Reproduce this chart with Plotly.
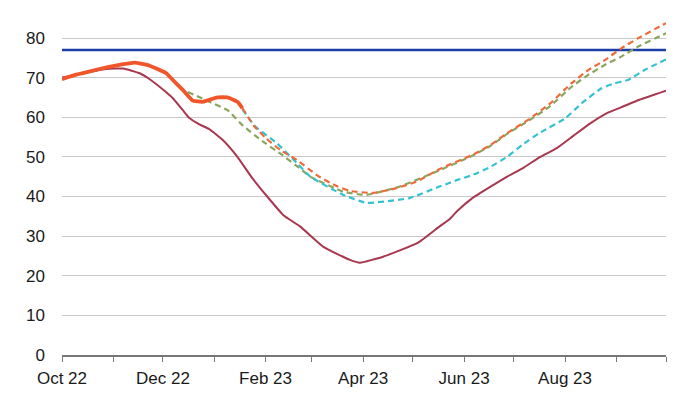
import plotly.graph_objects as go

# ---------------- data ----------------
target_dates = ["2022-10-01", "2023-10-01"]
target_values = [77, 77]

red_dates = ["2022-10-01", "2022-10-18", "2022-10-28", "2022-11-07", "2022-11-17", "2022-11-23",
             "2022-12-03", "2022-12-07", "2022-12-13", "2022-12-17", "2022-12-23", "2022-12-29",
             "2023-01-06", "2023-01-15", "2023-01-23", "2023-02-02", "2023-02-12", "2023-02-22",
             "2023-03-08", "2023-03-24", "2023-03-30", "2023-04-13", "2023-05-04", "2023-05-17",
             "2023-05-23", "2023-05-28", "2023-06-06", "2023-06-17", "2023-06-27", "2023-07-07",
             "2023-07-17", "2023-07-27", "2023-08-06", "2023-08-16", "2023-08-26", "2023-09-05",
             "2023-09-15", "2023-10-01"]
red_values = [70.0, 71.5, 72.2, 72.3, 71.1, 69.6,
              66.3, 64.8, 61.8, 59.8, 58.2, 57.0,
              54.3, 50.0, 45.2, 40.0, 35.2, 32.4,
              27.3, 24.0, 23.3, 24.8, 28.3, 32.4,
              34.2, 36.4, 39.6, 42.5, 45.0, 47.3,
              50.0, 52.2, 55.3, 58.4, 61.0, 62.7,
              64.4, 66.7]

actual_dates = ["2022-10-01", "2022-10-10", "2022-10-18", "2022-10-28", "2022-11-07", "2022-11-14",
                "2022-11-23", "2022-12-03", "2022-12-07", "2022-12-13", "2022-12-19", "2022-12-25",
                "2023-01-03", "2023-01-09", "2023-01-15", "2023-01-18"]
actual_values = [69.6, 70.8, 71.6, 72.6, 73.4, 73.8,
                 73.0, 71.1, 69.4, 66.9, 64.2, 63.9,
                 65.0, 65.0, 63.9, 62.3]

orange_dates = ["2023-01-18", "2023-01-25", "2023-02-01", "2023-02-10", "2023-02-20", "2023-03-04",
                "2023-03-14", "2023-03-24", "2023-04-07", "2023-04-20", "2023-05-03", "2023-05-17",
                "2023-06-06", "2023-06-17", "2023-06-27", "2023-07-11", "2023-07-23", "2023-08-05",
                "2023-08-15", "2023-08-25", "2023-09-04", "2023-09-14", "2023-09-29", "2023-10-01"]
orange_values = [62.3, 57.8, 54.8, 51.7, 49.2, 45.4,
                 43.0, 41.4, 40.9, 42.0, 43.7, 46.9,
                 50.5, 53.0, 56.0, 59.7, 63.5, 68.6,
                 71.9, 74.4, 77.4, 79.9, 83.3, 83.7]

green_dates = ["2022-12-16", "2022-12-29", "2023-01-09", "2023-01-18", "2023-01-29", "2023-02-10",
               "2023-02-22", "2023-02-28", "2023-03-20", "2023-04-03", "2023-04-23", "2023-05-17",
               "2023-06-06", "2023-06-17", "2023-06-27", "2023-07-11", "2023-07-23", "2023-08-05",
               "2023-08-15", "2023-08-25", "2023-09-04", "2023-09-14", "2023-09-29", "2023-10-01"]
green_values = [66.4, 63.9, 61.8, 58.0, 54.3, 50.8,
                47.0, 45.0, 41.2, 40.4, 42.5, 46.6,
                50.3, 52.8, 55.8, 59.4, 62.8, 67.7,
                70.7, 73.2, 75.3, 77.8, 80.8, 81.2]

cyan_dates = ["2023-01-18", "2023-01-26", "2023-02-08", "2023-02-20", "2023-02-28", "2023-03-20",
              "2023-04-03", "2023-04-29", "2023-05-17", "2023-05-23", "2023-05-28", "2023-06-06",
              "2023-06-17", "2023-06-27", "2023-07-06", "2023-07-16", "2023-08-01", "2023-08-11",
              "2023-08-23", "2023-08-31", "2023-09-08", "2023-09-18", "2023-10-01"]
cyan_values = [62.0, 57.6, 53.4, 48.4, 45.0, 40.4,
               38.4, 39.6, 42.5, 43.4, 44.2, 45.4,
               47.5, 50.0, 53.0, 55.9, 59.7, 63.5,
               67.3, 68.6, 69.4, 71.9, 74.6]

tick_dates = ["2022-10-01", "2022-11-01", "2022-12-01", "2023-01-01", "2023-02-01", "2023-03-01",
              "2023-04-01", "2023-05-01", "2023-06-01", "2023-07-01", "2023-08-01", "2023-09-01",
              "2023-10-01"]
tick_labels = ["Oct 22", "", "Dec 22", "", "Feb 23", "", "Apr 23", "", "Jun 23", "", "Aug 23", "", ""]
y_ticks = [0, 10, 20, 30, 40, 50, 60, 70, 80]

# ---------------- figure ----------------
FONT = "Liberation Sans, Arial, sans-serif"
fig = go.Figure()

fig.add_trace(go.Scatter(x=target_dates, y=target_values, mode="lines",
                         line=dict(color="#1c3fa6", width=2.5), hoverinfo="skip"))
fig.add_trace(go.Scatter(x=red_dates, y=red_values, mode="lines",
                         line=dict(color="#a8374f", width=2, shape="spline", smoothing=0.4)))
fig.add_trace(go.Scatter(x=green_dates, y=green_values, mode="lines",
                         line=dict(color="#8aa65e", width=2.2, dash="6px,4px", shape="spline", smoothing=0.4)))
fig.add_trace(go.Scatter(x=cyan_dates, y=cyan_values, mode="lines",
                         line=dict(color="#34c1d2", width=2.2, dash="6px,4px", shape="spline", smoothing=0.4)))
fig.add_trace(go.Scatter(x=orange_dates, y=orange_values, mode="lines",
                         line=dict(color="#ef6a3a", width=2.2, dash="6px,4px", shape="spline", smoothing=0.4)))
fig.add_trace(go.Scatter(x=actual_dates, y=actual_values, mode="lines",
                         line=dict(color="#f0562a", width=3.8, shape="spline", smoothing=0.4)))

fig.update_layout(
    width=700, height=394,
    margin=dict(l=54, r=42, t=0, b=47),
    paper_bgcolor="white", plot_bgcolor="white",
    showlegend=False,
    font=dict(family=FONT, size=17, color="#1a1a1a"),
)
fig.update_xaxes(
    type="date", range=["2022-10-01", "2023-10-01"],
    tickmode="array", tickvals=tick_dates, ticktext=tick_labels,
    ticks="outside", ticklen=5, tickwidth=1, tickcolor="#777777",
    showline=True, linecolor="#777777", linewidth=1.5,
    showgrid=False, zeroline=False,
    ticklabelstandoff=2,
    tickfont=dict(family=FONT, size=17, color="#1a1a1a"),
)
fig.update_yaxes(
    range=[0, 87.57], tickmode="array", tickvals=y_ticks,
    showgrid=True, gridcolor="#c9c9c9", gridwidth=1,
    zeroline=False, showline=False, ticks="",
    ticklabelstandoff=16,
    tickfont=dict(family=FONT, size=17, color="#1a1a1a"),
)

fig.write_html("out.html")
